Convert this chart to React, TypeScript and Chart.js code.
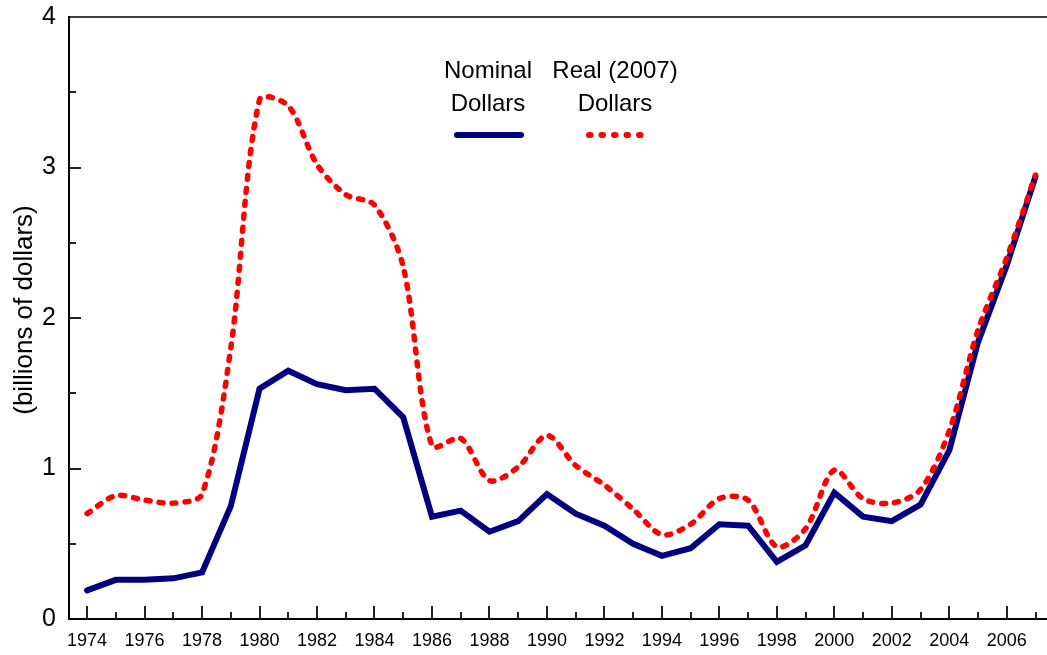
import React, { useEffect, useRef } from "react";
import { Chart, registerables } from "chart.js";

Chart.register(...registerables);

const years: number[] = [];
for (let y = 1974; y <= 2007; y++) years.push(y);

const nominal = [
  0.19, 0.26, 0.26, 0.27, 0.31, 0.75, 1.53, 1.65, 1.56, 1.52, 1.53, 1.34,
  0.68, 0.72, 0.58, 0.65, 0.83, 0.70, 0.62, 0.50, 0.42, 0.47, 0.63, 0.62,
  0.38, 0.49, 0.84, 0.68, 0.65, 0.76, 1.12, 1.84, 2.35, 2.94,
];

const real = [
  0.70, 0.82, 0.79, 0.77, 0.83, 1.80, 3.45, 3.41, 3.02, 2.82, 2.75, 2.34,
  1.15, 1.20, 0.92, 1.01, 1.22, 1.02, 0.89, 0.73, 0.56, 0.63, 0.80, 0.79,
  0.48, 0.60, 0.99, 0.80, 0.77, 0.86, 1.25, 1.92, 2.40, 2.95,
];

const yTicks = [0, 1, 2, 3, 4];
const yMinorTicks = [0.5, 1.5, 2.5, 3.5];
const legendNominal = ["Nominal", "Dollars"];
const legendReal = ["Real (2007)", "Dollars"];
const yTitle = "(billions of dollars)";

const FONT = "'Liberation Sans', Arial, sans-serif";

export default function App() {
  const ref = useRef<HTMLCanvasElement | null>(null);

  useEffect(() => {
    const canvas = ref.current;
    if (!canvas) return;

    const decor = {
      id: "decor",
      afterDraw(chart: any) {
        const ctx = chart.ctx;
        const x = chart.scales.x;
        const y = chart.scales.y;
        const area = chart.chartArea;
        ctx.save();
        ctx.setLineDash([]);
        // top border
        ctx.strokeStyle = "#000";
        ctx.lineWidth = 1.5;
        ctx.beginPath();
        ctx.moveTo(area.left, area.top);
        ctx.lineTo(area.right, area.top);
        ctx.stroke();
        // x tick marks
        ctx.strokeStyle = "#222";
        ctx.lineWidth = 2;
        years.forEach((yr) => {
          const px = Math.round(x.getPixelForValue(yr));
          const len = yr % 2 === 0 ? 13 : 7;
          ctx.beginPath();
          ctx.moveTo(px, area.bottom);
          ctx.lineTo(px, area.bottom - len);
          ctx.stroke();
        });
        // y tick marks
        yTicks.slice(1, 4).forEach((v) => {
          const py = Math.round(y.getPixelForValue(v));
          ctx.beginPath();
          ctx.moveTo(area.left, py);
          ctx.lineTo(area.left + 12, py);
          ctx.stroke();
        });
        yMinorTicks.forEach((v) => {
          const py = Math.round(y.getPixelForValue(v));
          ctx.beginPath();
          ctx.moveTo(area.left, py);
          ctx.lineTo(area.left + 7, py);
          ctx.stroke();
        });
        // y title
        ctx.fillStyle = "#000";
        ctx.font = `26px ${FONT}`;
        ctx.textAlign = "center";
        ctx.textBaseline = "middle";
        ctx.save();
        ctx.translate(25, 310);
        ctx.rotate(-Math.PI / 2);
        ctx.fillText(yTitle, 0, 0);
        ctx.restore();
        // legend
        ctx.font = `24px ${FONT}`;
        ctx.textBaseline = "alphabetic";
        ctx.fillText(legendNominal[0], 488, 78);
        ctx.fillText(legendNominal[1], 488, 111);
        ctx.fillText(legendReal[0], 615, 78);
        ctx.fillText(legendReal[1], 615, 111);
        ctx.lineCap = "round";
        ctx.strokeStyle = "#000080";
        ctx.lineWidth = 6;
        ctx.beginPath();
        ctx.moveTo(457, 135);
        ctx.lineTo(521, 135);
        ctx.stroke();
        ctx.strokeStyle = "#ff0000";
        ctx.setLineDash([1.5, 11]);
        ctx.beginPath();
        ctx.moveTo(589, 135);
        ctx.lineTo(647, 135);
        ctx.stroke();
        ctx.restore();
      },
    };

    const chart = new Chart(canvas, {
      type: "line",
      data: {
        labels: years,
        datasets: [
          {
            label: "Real (2007) Dollars",
            data: years.map((yr, i) => ({ x: yr, y: real[i] })),
            borderColor: "#ff0000",
            borderWidth: 5.5,
            borderDash: [4, 9],
            borderCapStyle: "round",
            borderJoinStyle: "round",
            pointRadius: 0,
            tension: 0.3,
            fill: false,
          },
          {
            label: "Nominal Dollars",
            data: years.map((yr, i) => ({ x: yr, y: nominal[i] })),
            borderColor: "#000080",
            borderWidth: 6,
            borderCapStyle: "round",
            borderJoinStyle: "miter",
            pointRadius: 0,
            tension: 0,
            fill: false,
          },
        ],
      },
      options: {
        animation: false,
        responsive: false,
        maintainAspectRatio: false,
        layout: { padding: { left: 0, top: 17, right: 0, bottom: 0 } },
        plugins: {
          legend: { display: false },
          tooltip: { enabled: false },
        },
        scales: {
          x: {
            type: "linear",
            min: 1973.37,
            max: 2007.4,
            afterFit: (s: any) => {
              s.height = 36;
              s.paddingLeft = 0;
              s.paddingRight = 0;
            },
            afterBuildTicks: (s: any) => {
              s.ticks = years.map((v) => ({ value: v }));
            },
            ticks: {
              autoSkip: false,
              maxRotation: 0,
              padding: 11,
              color: "#000",
              font: { family: FONT, size: 18 },
              callback: (v: any) => (Number(v) % 2 === 0 ? String(v) : ""),
            },
            grid: { display: false, drawTicks: false },
            border: { display: true, color: "#000", width: 2 },
          },
          y: {
            min: 0,
            max: 4,
            afterFit: (s: any) => {
              s.width = 69;
              s.paddingTop = 0;
              s.paddingBottom = 0;
            },
            afterBuildTicks: (s: any) => {
              s.ticks = yTicks.map((v) => ({ value: v }));
            },
            ticks: {
              padding: 13,
              color: "#000",
              font: { family: FONT, size: 25 },
            },
            grid: { display: false, drawTicks: false },
            border: { display: true, color: "#000", width: 2 },
          },
        },
      },
      plugins: [decor],
    });

    return () => chart.destroy();
  }, []);

  return (
    <div style={{ position: "fixed", left: 0, top: 0, width: 1047, height: 655, background: "#fff" }}>
      <canvas ref={ref} width={1047} height={655} style={{ display: "block" }} />
    </div>
  );
}
